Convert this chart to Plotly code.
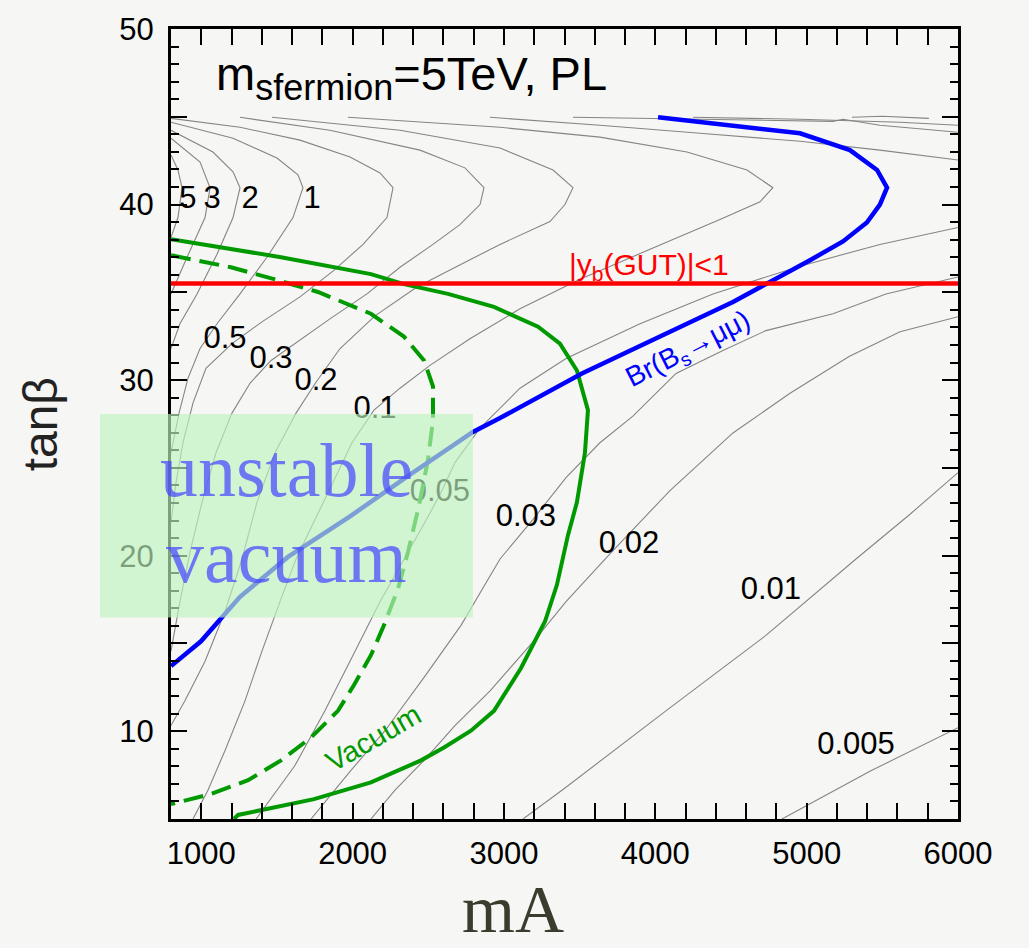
import plotly.graph_objects as go

# ---------------- axes ----------------
mA_range = [800, 6000]
tanb_range = [5, 50]
x_tickvals = [1000, 2000, 3000, 4000, 5000, 6000]
x_ticktext = ["1000", "2000", "3000", "4000", "5000", "6000"]
y_tickvals = [10, 20, 30, 40, 50]
y_ticktext = ["10", "20", "30", "40", "50"]
y_mid_ticks = [15, 25, 35, 45]

# ---------------- gray contour lines (mA, tanβ) ----------------
c5_x = [800, 846, 873, 846, 800]
c5_y = [42.82, 41.97, 40.96, 39.26, 38.13]

c3_x = [800, 992, 1058, 1025, 906, 800]
c3_y = [43.78, 42.42, 40.96, 39.26, 37.0, 34.91]

c2_x = [800, 1077, 1210, 1256, 1210, 1104, 972, 859, 800]
c2_y = [44.23, 42.99, 41.86, 40.96, 39.26, 37.17, 34.91, 33.21, 31.80]

c1_x = [800, 1210, 1500, 1639, 1672, 1606, 1434, 1256, 1104, 992, 912, 853, 800]
c1_y = [44.69, 43.78, 42.65, 41.69, 40.96, 39.26, 37.0, 34.91, 33.21, 31.80, 30.10, 28.12, 25.86]

c05_x = [800, 1256, 1652, 1983, 2181, 2267, 2227, 2069, 1870, 1652, 1401, 1203, 1031, 945, 879, 833, 800]
c05_y = [44.91, 44.40, 43.67, 42.71, 41.80, 40.96, 39.26, 37.73, 36.21, 34.74, 33.32, 32.08, 30.67, 28.69, 26.43, 24.17, 21.90]

c03_x = [1256, 1850, 2445, 2742, 2868, 2842, 2709, 2531, 2313, 2095, 1850, 1619, 1461, 1322, 1203, 1097, 1005, 926, 859, 800]
c03_y = [44.97, 44.23, 43.10, 42.09, 40.96, 40.0, 38.86, 37.73, 36.43, 34.91, 33.49, 32.08, 31.12, 29.82, 28.12, 25.86, 23.04, 20.21, 17.38, 14.56]

c02_x = [1467, 2313, 2974, 3324, 3456, 3403, 3304, 2974, 2756, 2425, 2148, 1917, 1758, 1626, 1487, 1368, 1269, 1157, 1025, 892, 800]
c02_y = [44.97, 44.23, 43.22, 41.97, 40.96, 40.0, 39.03, 37.73, 36.77, 35.30, 33.66, 31.80, 29.88, 28.12, 25.86, 23.04, 19.81, 16.82, 13.99, 11.73, 10.32]

c01_x = [1969, 2974, 3634, 4209, 4606, 4777, 4692, 4427, 3965, 3502, 3106, 2775, 2511, 2313, 2141, 1996, 1870, 1745, 1626, 1520, 1401, 1289, 1157, 1044, 945]
c01_y = [44.97, 44.40, 43.84, 42.99, 41.97, 40.96, 40.16, 39.15, 37.45, 35.75, 34.06, 32.36, 30.84, 29.54, 28.29, 26.43, 24.17, 21.90, 19.81, 17.38, 14.56, 11.73, 8.90, 6.64, 5.0]

c005_upper_x = [2908, 3634, 4295, 4956, 5484, 6000]
c005_upper_y = [44.97, 44.52, 44.06, 43.61, 43.10, 42.54]
c005_lower_x = [6000, 5484, 4956, 4381, 3899, 3410, 3106, 2842, 2676, 2584, 2478, 2339, 2181, 2016, 1817, 1619, 1454, 1362]
c005_lower_y = [38.69, 37.73, 36.49, 34.91, 33.21, 31.23, 29.54, 27.27, 25.30, 23.60, 21.90, 19.81, 17.38, 14.56, 11.16, 8.05, 6.08, 5.0]

c003_upper_x = [3456, 4295, 4956, 5174, 5240, 5484, 6000]
c003_upper_y = [44.97, 44.86, 44.74, 44.74, 44.86, 44.52, 44.12]
c003_lower_x = [6000, 5524, 5174, 4731, 4447, 4137, 3852, 3634, 3410, 3192, 2974, 2716, 2478, 2214, 1989, 1725]
c003_lower_y = [35.87, 34.91, 33.78, 32.82, 31.68, 30.38, 27.95, 26.43, 24.45, 22.07, 19.81, 16.03, 13.14, 10.03, 7.77, 5.0]

c002_upper_x = [4249, 4956, 5617, 6000]
c002_upper_y = [44.97, 44.86, 44.69, 44.52]
c002_lower_x = [6000, 5617, 5280, 4890, 4513, 4097, 3694, 3410, 3212, 2908, 2676, 2472, 2280, 2121]
c002_lower_y = [33.61, 32.76, 31.35, 29.25, 26.99, 23.71, 20.04, 17.38, 15.29, 12.30, 10.32, 8.34, 6.64, 5.0]

c001_top_x = [5299, 5500, 5808]
c001_top_y = [44.97, 45.03, 44.91]
c001_x = [3126, 3410, 4070, 4731, 5326, 5683, 6000]
c001_y = [5.0, 6.81, 11.16, 15.46, 19.81, 22.36, 24.73]

c0005_x = [4837, 5418, 6000]
c0005_y = [5.0, 7.72, 10.20]

# contour labels
label_text = ["5", "3", "2", "1", "0.5", "0.3", "0.2", "0.1", "0.05", "0.03", "0.02", "0.01", "0.005"]
label_x = [912, 1071, 1322, 1732, 1157, 1461, 1758, 2148, 2577, 3145, 3826, 4764, 5326]
label_y = [40.22, 40.22, 40.22, 40.22, 32.25, 31.12, 29.88, 28.29, 23.54, 22.13, 20.60, 18.0, 9.13]

# ---------------- constraint curves ----------------
bs_mumu_x = [4018, 4513, 4956, 5286, 5465, 5531, 5484, 5398, 5240, 5022, 4738, 4513, 4031, 3515,
             2974, 2795, 2379, 1983, 1573, 1256, 1130, 998, 800]
bs_mumu_y = [44.97, 44.52, 44.06, 43.10, 41.97, 40.96, 40.0, 38.98, 37.90, 36.83, 35.47, 34.45, 32.48, 30.38,
             27.84, 27.05, 24.62, 22.24, 19.93, 17.66, 16.42, 15.12, 13.71]

vac_solid_x = [800, 1527, 2121, 2339, 2630, 2934, 3225, 3370, 3482, 3555, 3535, 3482, 3423, 3350, 3271,
               3225, 3112, 2934, 2782, 2604, 2452, 2121, 1745, 1243, 1216]
vac_solid_y = [38.02, 37.0, 36.04, 35.47, 34.91, 34.17, 33.04, 32.08, 30.55, 28.29, 25.86, 23.04, 21.17, 18.34, 16.25,
               15.46, 13.59, 11.16, 10.03, 9.07, 8.34, 7.09, 6.13, 5.23, 5.0]

vac_dash_x = [800, 1196, 1481, 1771, 2121, 2339, 2472, 2531, 2531, 2498, 2439, 2366, 2300, 2207, 2121,
              2009, 1903, 1725, 1527, 1309, 1064, 800]
vac_dash_y = [37.11, 36.43, 35.75, 35.02, 33.78, 32.48, 31.12, 29.65, 27.73, 25.47, 22.87, 20.21, 18.12, 16.03, 14.33,
              12.63, 11.16, 9.64, 8.34, 7.21, 6.42, 5.85]

yb_gut_tanb = 35.5

# ---------------- figure ----------------
fig = go.Figure()

gray_curves = [
    (c5_x, c5_y), (c3_x, c3_y), (c2_x, c2_y), (c1_x, c1_y), (c05_x, c05_y),
    (c03_x, c03_y), (c02_x, c02_y), (c01_x, c01_y),
    (c005_upper_x, c005_upper_y), (c005_lower_x, c005_lower_y),
    (c003_upper_x, c003_upper_y), (c003_lower_x, c003_lower_y),
    (c002_upper_x, c002_upper_y), (c002_lower_x, c002_lower_y),
    (c001_top_x, c001_top_y), (c001_x, c001_y), (c0005_x, c0005_y),
]
for cx, cy in gray_curves:
    fig.add_trace(go.Scatter(x=cx, y=cy, mode="lines",
                             line=dict(color="#858585", width=1.1),
                             hoverinfo="skip", showlegend=False))

fig.add_trace(go.Scatter(x=label_x, y=label_y, mode="text", text=label_text,
                         textposition="middle center",
                         textfont=dict(family="Liberation Sans, Arial", size=31, color="black"),
                         hoverinfo="skip", showlegend=False))

fig.add_trace(go.Scatter(x=vac_dash_x, y=vac_dash_y, mode="lines",
                         line=dict(color="#009a00", width=4, dash="20px,9px"),
                         hoverinfo="skip", showlegend=False))
fig.add_trace(go.Scatter(x=vac_solid_x, y=vac_solid_y, mode="lines",
                         line=dict(color="#009a00", width=4),
                         hoverinfo="skip", showlegend=False))
fig.add_trace(go.Scatter(x=bs_mumu_x, y=bs_mumu_y, mode="lines",
                         line=dict(color="#0000ff", width=4.5),
                         hoverinfo="skip", showlegend=False))
fig.add_trace(go.Scatter(x=mA_range, y=[yb_gut_tanb, yb_gut_tanb], mode="lines",
                         line=dict(color="#ff0000", width=4.5),
                         hoverinfo="skip", showlegend=False, cliponaxis=False))
# empty trace so the overlaying tick-only axis is drawn
fig.add_trace(go.Scatter(x=[], y=[], yaxis="y2", mode="lines", hoverinfo="skip", showlegend=False))

bg = "#f6f6f4"
tickfont = dict(family="Liberation Sans, Arial", size=31, color="black")

fig.update_layout(
    width=1029, height=948, autosize=False,
    margin=dict(l=171, r=71, t=23, b=129),
    paper_bgcolor=bg, plot_bgcolor=bg,
    showlegend=False,
    xaxis=dict(range=mA_range, tickmode="array", tickvals=x_tickvals, ticktext=x_ticktext,
               ticks="inside", ticklen=16, tickwidth=2, tickcolor="black",
               showline=True, linewidth=3, linecolor="black", mirror="allticks",
               showgrid=False, zeroline=False, tickfont=tickfont, ticklabelstandoff=5,
               minor=dict(tickmode="linear", tick0=1000, dtick=200, ticks="inside",
                          ticklen=8, tickwidth=2, tickcolor="black", showgrid=False)),
    yaxis=dict(range=tanb_range, tickmode="array", tickvals=y_tickvals, ticktext=y_ticktext,
               ticks="inside", ticklen=16, tickwidth=2, tickcolor="black",
               showline=True, linewidth=3, linecolor="black", mirror="allticks",
               showgrid=False, zeroline=False, tickfont=tickfont, ticklabelstandoff=8,
               minor=dict(tickmode="linear", tick0=10, dtick=1, ticks="inside",
                          ticklen=8, tickwidth=2, tickcolor="black", showgrid=False)),
    yaxis2=dict(range=tanb_range, overlaying="y", anchor="x", side="left",
                tickmode="array", tickvals=y_mid_ticks, showticklabels=False,
                ticks="inside", ticklen=16, tickwidth=2, tickcolor="black",
                showline=True, linewidth=3, linecolor="black", mirror="allticks",
                showgrid=False, zeroline=False),
)

# unstable vacuum box
fig.add_shape(type="rect", xref="paper", yref="paper",
              x0=-0.0902, x1=0.3837, y0=0.255, y1=0.5126,
              fillcolor="rgba(190,245,190,0.65)", line=dict(width=0), layer="above")

annots = [
    dict(x=1084, y=47.25, xref="x", yref="y", xanchor="left", yanchor="middle",
         text="m<sub><span style='font-size:36px'>sfermion</span></sub>=5TeV, PL",
         font=dict(family="Liberation Sans, Arial", size=47, color="black")),
    dict(x=3958, y=36.5, xref="x", yref="y", xanchor="center", yanchor="middle",
         text="|y<sub>b</sub>(GUT)|<1",
         font=dict(family="Liberation Sans, Arial", size=30, color="#ff0000")),
    dict(x=4216, y=31.68, xref="x", yref="y", xanchor="center", yanchor="middle", textangle=-27,
         text="Br(B<sub>s</sub>→μμ)",
         font=dict(family="Liberation Sans, Arial", size=28, color="#0000ff")),
    dict(x=2135, y=9.64, xref="x", yref="y", xanchor="center", yanchor="middle", textangle=-30,
         text="Vacuum",
         font=dict(family="Liberation Sans, Arial", size=29, color="#009a00")),
    dict(x=1566, y=24.9, xref="x", yref="y", xanchor="center", yanchor="middle",
         text="unstable",
         font=dict(family="Liberation Serif, serif", size=76, color="rgba(70,70,255,0.72)")),
    dict(x=1566, y=19.98, xref="x", yref="y", xanchor="center", yanchor="middle",
         text="vacuum",
         font=dict(family="Liberation Serif, serif", size=76, color="rgba(70,70,255,0.72)")),
    dict(x=0.4346, y=-0.1143, xref="paper", yref="paper", xanchor="center", yanchor="middle",
         text="mA",
         font=dict(family="Liberation Serif, serif", size=68, color="#3b3b2e")),
    dict(x=-0.166, y=0.5, xref="paper", yref="paper", xanchor="center", yanchor="middle",
         textangle=-90, text="tanβ",
         font=dict(family="Liberation Sans, Arial", size=48, color="#222222")),
]
for a in annots:
    a["showarrow"] = False
    fig.add_annotation(**a)

fig.write_html("out.html", config={"displayModeBar": False},
               post_script="document.body.style.margin='0px';")
